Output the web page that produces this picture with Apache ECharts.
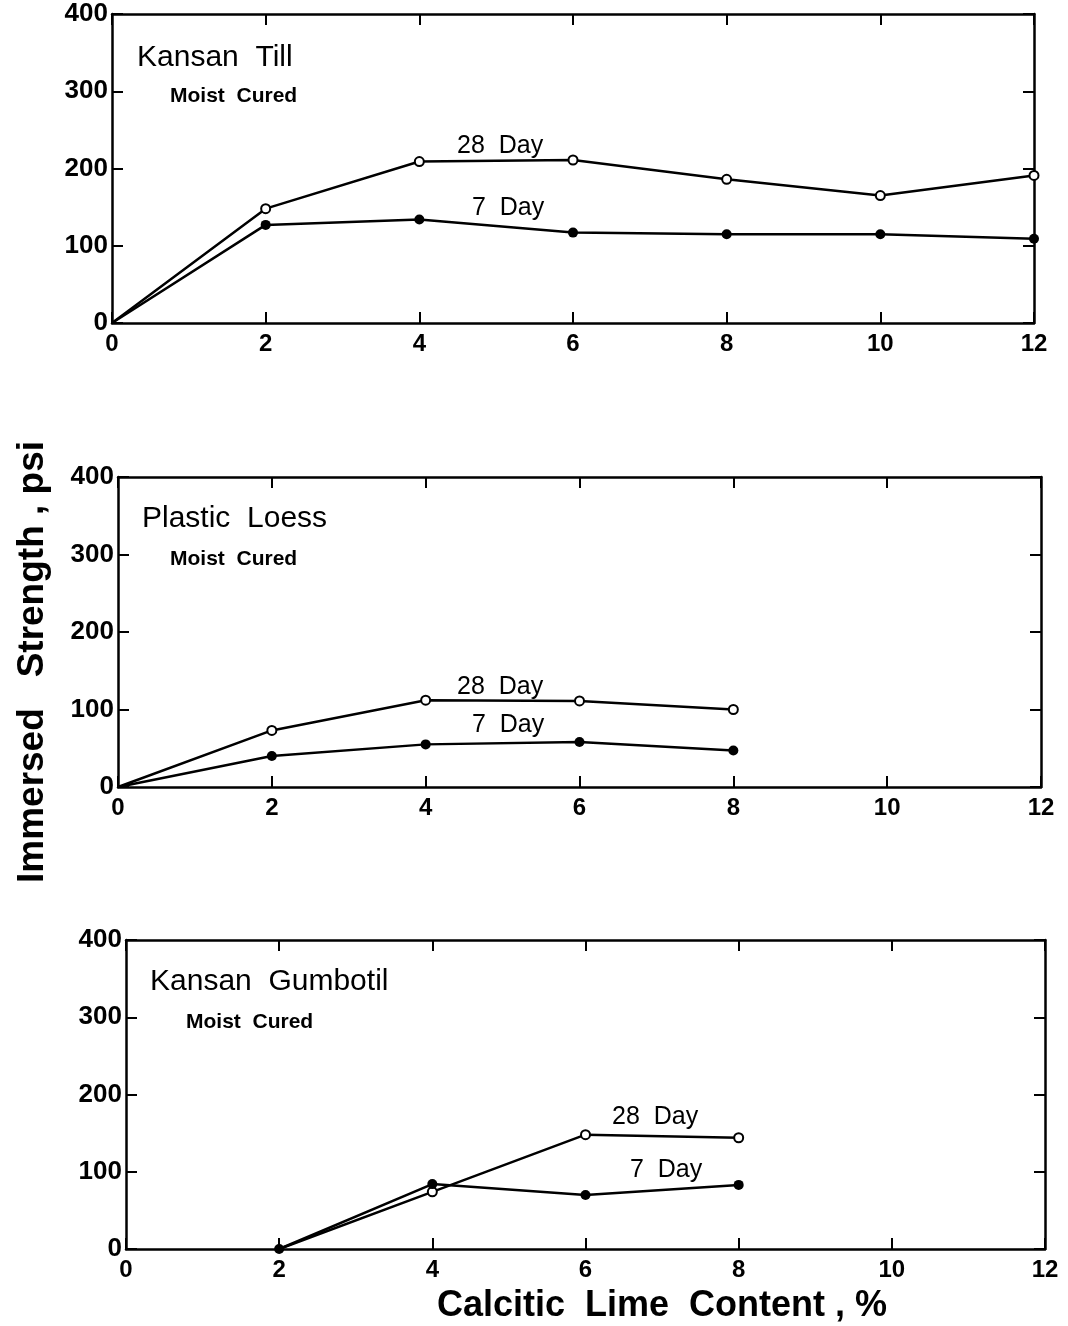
<!DOCTYPE html>
<html>
<head>
<meta charset="utf-8">
<script src="https://cdn.jsdelivr.net/npm/echarts@6/dist/echarts.min.js"></script>
<style>
  html, body { margin: 0; padding: 0; background: #fff; }
  #chart { width: 1068px; height: 1326px; }
</style>
</head>
<body>
<div id="chart"></div>
<script>
// Lime content (%) on x, immersed strength (psi) on y
const tillLime = [0, 2, 4, 6, 8, 10, 12];
const till28 = [0, 148, 209, 211, 186, 165, 191];
const till7 = [0, 127, 134, 117, 115, 115, 109];

const loessLime = [0, 2, 4, 6, 8];
const loess28 = [0, 73, 112, 111, 100];
const loess7 = [0, 40, 55, 58, 47];

const gumboLime = [2, 4, 6, 8];
const gumbo28 = [0, 74, 148, 144];
const gumbo7 = [0, 84, 70, 83];

const limeTicks = [0, 2, 4, 6, 8, 10, 12];
const strengthTicks = [0, 100, 200, 300, 400];

const panelNames = ['Kansan  Till', 'Plastic  Loess', 'Kansan  Gumbotil'];

const FONT = '"Liberation Sans", Arial, sans-serif';

// plot boxes, in pixels
const boxes = [
    { left: 112, top: 14, width: 922, height: 309 },
    { left: 118, top: 477, width: 923, height: 310 },
    { left: 126, top: 940, width: 919, height: 309 }
];

function pairs(xs, ys, hideFirst) {
    return xs.map((x, i) => {
        const item = { value: [x, ys[i]] };
        if (i === 0 && hideFirst) item.symbolSize = 0;
        return item;
    });
}

const frameLine = { show: true, onZero: false, lineStyle: { color: '#000', width: 2.5 } };
const innerTick = { show: true, inside: true, length: 11, lineStyle: { color: '#000', width: 2 } };

const grids = [], xAxes = [], yAxes = [], series = [];

boxes.forEach((b, i) => {
    grids.push({ left: b.left, top: b.top, width: b.width, height: b.height, containLabel: false });

    const xBase = {
        type: 'value', gridIndex: i, min: 0, max: 12, interval: 2,
        axisLine: frameLine, axisTick: innerTick, splitLine: { show: false }
    };
    xAxes.push(Object.assign({}, xBase, {
        position: 'bottom',
        axisLabel: { color: '#000', fontFamily: FONT, fontWeight: 'bold', fontSize: 24, margin: 9,
            formatter: v => limeTicks.includes(v) ? String(v) : '' }
    }));
    xAxes.push(Object.assign({}, xBase, { position: 'top', axisLabel: { show: false } }));

    const yBase = {
        type: 'value', gridIndex: i, min: 0, max: 400, interval: 100,
        axisLine: frameLine, axisTick: innerTick, splitLine: { show: false }
    };
    yAxes.push(Object.assign({}, yBase, {
        position: 'left',
        axisLabel: { color: '#000', fontFamily: FONT, fontWeight: 'bold', fontSize: 26, margin: 4,
            formatter: v => strengthTicks.includes(v) ? String(v) : '' }
    }));
    yAxes.push(Object.assign({}, yBase, { position: 'right', axisLabel: { show: false } }));
});

const panels = [
    { x: tillLime, d28: till28, d7: till7, origin: false },
    { x: loessLime, d28: loess28, d7: loess7, origin: false },
    { x: gumboLime, d28: gumbo28, d7: gumbo7, origin: true }
];

panels.forEach((p, i) => {
    series.push({
        name: '28 Day', type: 'line', xAxisIndex: i * 2, yAxisIndex: i * 2,
        data: pairs(p.x, p.d28, true),
        symbol: 'circle', symbolSize: 9,
        itemStyle: { color: '#fff', borderColor: '#000', borderWidth: 2 },
        lineStyle: { color: '#000', width: 2.5 },
        z: 3, animation: false
    });
    series.push({
        name: '7 Day', type: 'line', xAxisIndex: i * 2, yAxisIndex: i * 2,
        data: pairs(p.x, p.d7, !p.origin),
        symbol: 'circle', symbolSize: 10,
        itemStyle: { color: '#000', borderColor: '#000', borderWidth: 0 },
        lineStyle: { color: '#000', width: 2.5 },
        z: 4, animation: false
    });
});

function txt(x, y, text, size, weight) {
    return {
        type: 'text', x: x, y: y,
        style: { text: text, font: weight + ' ' + size + 'px ' + FONT, fill: '#000',
            textAlign: 'left', textVerticalAlign: 'middle' }
    };
}

const graphics = [
    // panel titles
    txt(137, 58, panelNames[0], 30, 'normal'),
    txt(170, 96, 'Moist  Cured', 21, 'bold'),
    txt(142, 519, panelNames[1], 30, 'normal'),
    txt(170, 559, 'Moist  Cured', 21, 'bold'),
    txt(150, 982, panelNames[2], 30, 'normal'),
    txt(186, 1022, 'Moist  Cured', 21, 'bold'),
    // curve labels
    txt(457, 146, '28  Day', 25, 'normal'),
    txt(472, 208, '7  Day', 25, 'normal'),
    txt(457, 687, '28  Day', 25, 'normal'),
    txt(472, 725, '7  Day', 25, 'normal'),
    txt(612, 1117, '28  Day', 25, 'normal'),
    txt(630, 1170, '7  Day', 25, 'normal'),
    // axis titles
    {
        type: 'text', x: 33, y: 662, rotation: Math.PI / 2,
        style: { text: 'Immersed   Strength , psi', font: 'bold 37px ' + FONT, fill: '#000',
            textAlign: 'center', textVerticalAlign: 'middle' }
    },
    {
        type: 'text', x: 662, y: 1306,
        style: { text: 'Calcitic  Lime  Content , %', font: 'bold 36px ' + FONT, fill: '#000',
            textAlign: 'center', textVerticalAlign: 'middle' }
    }
];

const chart = echarts.init(document.getElementById('chart'), null, { renderer: 'canvas' });
chart.setOption({
    backgroundColor: '#fff',
    animation: false,
    grid: grids,
    xAxis: xAxes,
    yAxis: yAxes,
    series: series,
    graphic: graphics
});
</script>
</body>
</html>
